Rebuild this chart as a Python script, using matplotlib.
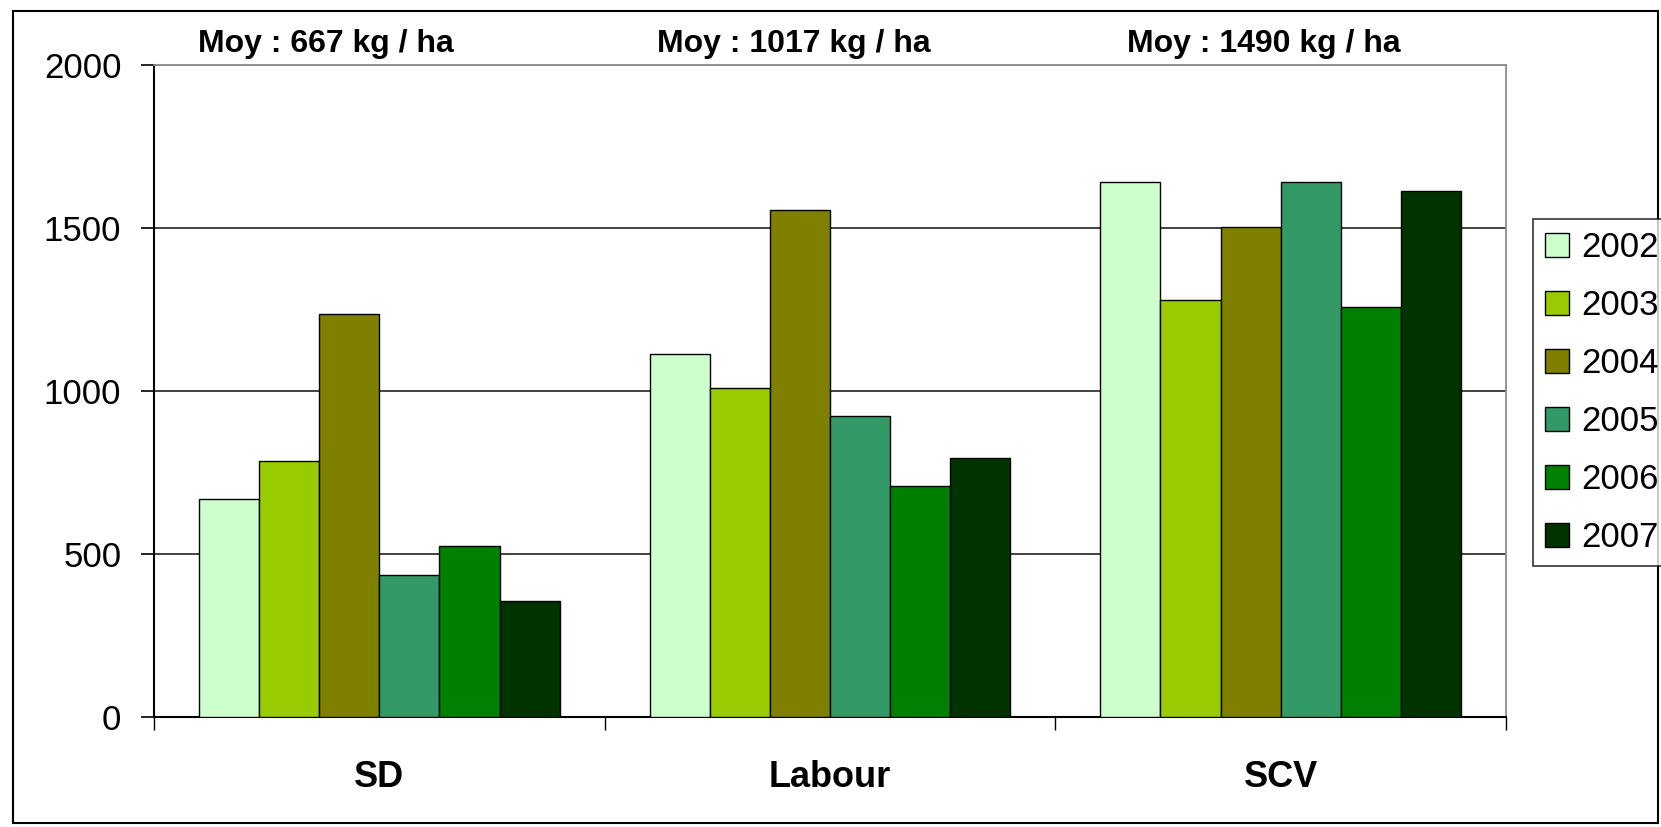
import numpy as np
import matplotlib
matplotlib.use("Agg")
import matplotlib.pyplot as plt
import matplotlib.transforms as mtransforms
from matplotlib.patches import Rectangle

plt.rcParams['font.family'] = ['Liberation Sans', 'DejaVu Sans']

# ---------------------------------------------------------------------------
# Données (rendement kg / ha)
# ---------------------------------------------------------------------------
systemes = ["SD", "Labour", "SCV"]
annees = ["2002", "2003", "2004", "2005", "2006", "2007"]
rendements = {
    "2002": [669, 1113, 1642],
    "2003": [786, 1009, 1280],
    "2004": [1236, 1555, 1503],
    "2005": [437, 922, 1642],
    "2006": [525, 710, 1259],
    "2007": [357, 793, 1615],
}
moyennes = ["Moy : 667 kg / ha", "Moy : 1017 kg / ha", "Moy : 1490 kg / ha"]
couleurs = ["#CCFFCC", "#99CC00", "#808000", "#339966", "#008000", "#003300"]
y_ticks = [0, 500, 1000, 1500, 2000]

# ---------------------------------------------------------------------------
# Figure
# ---------------------------------------------------------------------------
W, H = 1661, 827
fig = plt.figure(figsize=(W / 100, H / 100), dpi=100)
ax = fig.add_axes([154 / W, 1 - 717 / H, (1506 - 154) / W, (717 - 65) / H])

x = np.arange(len(systemes))
n = len(annees)
larg = 0.8 / n
for i, an in enumerate(annees):
    ax.bar(x - 0.4 + larg * (i + 0.5), rendements[an], width=larg,
           color=couleurs[i], edgecolor="black", linewidth=1.0,
           label=an, zorder=3)

ax.set_xlim(-0.5, len(systemes) - 0.5)
ax.set_ylim(0, 2000)
ax.set_yticks(y_ticks)
ax.yaxis.grid(True, color="#333333", linewidth=1.3, zorder=0)
ax.set_axisbelow(True)
ax.tick_params(axis="y", labelsize=25, length=9.5, width=1.2,
               direction="out", pad=14, colors="black")

# ticks majeurs aux limites de groupe, étiquettes au centre
ax.set_xticks(np.arange(len(systemes) + 1) - 0.5)
ax.set_xticklabels([])
ax.set_xticks(x, minor=True)
ax.set_xticklabels(systemes, minor=True, fontsize=26, fontweight="bold")
ax.tick_params(axis="x", which="major", length=9.5, width=1.0, direction="out")
ax.tick_params(axis="x", which="minor", length=0, pad=31)

for s in ["left", "bottom"]:
    ax.spines[s].set_color("black")
    ax.spines[s].set_linewidth(1.5)
for s in ["top", "right"]:
    ax.spines[s].set_color("#8c8c8c")
    ax.spines[s].set_linewidth(1.3)

# moyennes au-dessus des groupes (x en données, y en fraction de figure)
trans_moy = mtransforms.blended_transform_factory(ax.transData, fig.transFigure)
pos_moy = [-0.402, 0.616, 1.66]
for xm, txt in zip(pos_moy, moyennes):
    ax.text(xm, 1 - 44 / H, txt, transform=trans_moy,
            fontsize=23, fontweight="bold", ha="left", va="center")

# légende
leg = fig.legend(loc="upper left", bbox_to_anchor=(1533 / W, 1 - 219 / H),
                 borderaxespad=0, fontsize=25, frameon=True, fancybox=False,
                 handlelength=0.7, handleheight=0.7, handletextpad=0.35,
                 labelspacing=0.72, borderpad=0.35)
leg.get_frame().set_edgecolor("black")
leg.get_frame().set_linewidth(1.2)

# cadre extérieur
fig.patches.append(Rectangle((13 / W, 1 - 823 / H), (1658 - 13) / W, (823 - 11) / H,
                             transform=fig.transFigure, fill=False,
                             edgecolor="black", linewidth=1.5))

fig.savefig("out.png", dpi=100)
